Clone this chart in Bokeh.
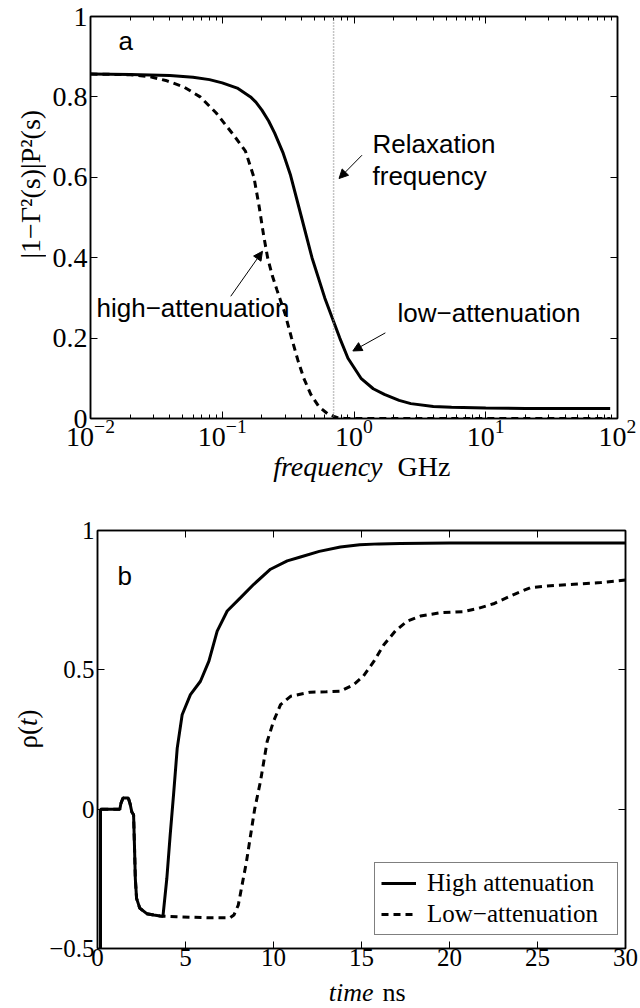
import math
from bokeh.plotting import figure
from bokeh.layouts import column, row
from bokeh.models import (Range1d, LogAxis, LinearAxis, FixedTicker, Span, Label,
                          Arrow, NormalHead, Legend, LegendItem)
from bokeh.embed import file_html
from bokeh.resources import INLINE

SERIF = "Liberation Serif"
SANS = "Liberation Sans"

# ---------------- panel a data ----------------
freq_low = [0.01, 0.02, 0.04, 0.06, 0.08, 0.1, 0.13, 0.164, 0.18, 0.2, 0.225, 0.25, 0.29, 0.33,
            0.4, 0.48, 0.6, 0.78, 0.9, 1.13, 1.4, 1.7, 2.2, 2.7, 4.0, 5.5, 10.0, 20.0, 50.0, 88.0]
resp_low = [0.857, 0.856, 0.853, 0.849, 0.843, 0.835, 0.822, 0.80, 0.787, 0.767, 0.74, 0.71, 0.66,
            0.605, 0.50, 0.40, 0.30, 0.20, 0.15, 0.10, 0.074, 0.06, 0.045, 0.037, 0.03, 0.028,
            0.026, 0.025, 0.025, 0.025]

freq_high = [0.01, 0.02, 0.0285, 0.038, 0.051, 0.068, 0.09, 0.122, 0.15, 0.174, 0.19, 0.206,
             0.221, 0.24, 0.26, 0.3, 0.336, 0.375, 0.416, 0.47, 0.54, 0.64, 0.75, 0.85, 1.0,
             2.0, 5.0, 10.0, 30.0, 88.0]
resp_high = [0.857, 0.855, 0.85, 0.84, 0.825, 0.80, 0.76, 0.705, 0.665, 0.60, 0.53, 0.456,
             0.40, 0.355, 0.32, 0.26, 0.20, 0.145, 0.10, 0.06, 0.03, 0.01, 0.002, 0.0, 0.0,
             0.0, 0.0, 0.0, 0.0, 0.0]

relax_freq = 0.7
x_ticks_a = [0.01, 0.1, 1, 10, 100]
y_ticks_a = [0, 0.2, 0.4, 0.6, 0.8, 1]
y_labels_a = ["0", "0.2", "0.4", "0.6", "0.8", "1"]

# ---------------- panel b data ----------------
t_high = [0.17, 0.17, 1.27, 1.33, 1.45, 1.75, 1.85, 1.95, 2.05, 2.1, 2.15, 2.22, 2.4, 2.8, 3.2,
          3.56, 3.72, 3.94, 4.13, 4.32, 4.53, 4.81, 5.28, 5.85, 6.33, 6.8, 7.37, 8.13, 8.88,
          9.83, 10.78, 11.53, 12.6, 13.8, 14.9, 16.0, 17.2, 20.0, 25.0, 30.0]
rho_high = [-0.6, 0.0, 0.0, 0.02, 0.04, 0.04, 0.02, -0.01, -0.02, -0.13, -0.25, -0.32, -0.355,
            -0.375, -0.38, -0.383, -0.384, -0.248, -0.092, 0.051, 0.219, 0.339, 0.411, 0.459,
            0.531, 0.639, 0.711, 0.759, 0.807, 0.861, 0.891, 0.905, 0.925, 0.941, 0.949, 0.952,
            0.953, 0.955, 0.955, 0.955]

t_low = [0.17, 0.17, 1.27, 1.33, 1.45, 1.75, 1.85, 1.95, 2.05, 2.1, 2.15, 2.22, 2.4, 2.8, 3.2,
         3.56, 3.72, 4.5, 5.5, 6.5, 7.2, 7.53, 7.75, 8.0, 8.46, 8.93, 9.26, 9.64, 10.0, 10.4,
         10.97, 12.1, 13.0, 13.8, 14.56, 15.1, 15.7, 16.27, 16.93, 17.6, 18.35, 19.5, 20.8,
         21.6, 22.5, 23.65, 24.6, 25.36, 27.07, 28.6, 30.0]
rho_low = [-0.6, 0.0, 0.0, 0.02, 0.04, 0.04, 0.02, -0.01, -0.02, -0.13, -0.25, -0.32, -0.355,
           -0.375, -0.38, -0.383, -0.384, -0.386, -0.388, -0.39, -0.39, -0.39, -0.38, -0.344,
           -0.19, 0.0, 0.10, 0.243, 0.315, 0.375, 0.405, 0.42, 0.421, 0.423, 0.447, 0.477, 0.53,
           0.59, 0.64, 0.675, 0.693, 0.705, 0.709, 0.72, 0.737, 0.77, 0.795, 0.80, 0.807,
           0.813, 0.822]

x_ticks_b = [0, 5, 10, 15, 20, 25, 30]
y_ticks_b = [-0.5, 0, 0.5, 1]
y_labels_b = ["\u22120.5", "0", "0.5", "1"]


def style_axis(ax, size, hidden=False):
    ax.major_tick_in = 7
    ax.major_tick_out = 0
    ax.minor_tick_in = 4
    ax.minor_tick_out = 0
    ax.axis_line_color = "black"
    ax.axis_line_width = 1.5
    ax.major_tick_line_color = "black"
    ax.major_tick_line_width = 1
    ax.minor_tick_line_color = "black"
    ax.minor_tick_line_width = 1
    ax.major_label_text_font = SERIF
    ax.major_label_text_font_size = size
    ax.major_label_text_color = "black"
    if hidden:
        ax.major_label_text_color = None
        ax.major_label_text_font_size = "0px"
        ax.major_label_standoff = 0


def add_text(p, text, x, y, font, size, style="normal", align="left",
             baseline="alphabetic", angle=0.0):
    p.add_layout(Label(x=x, y=y, x_units="screen", y_units="screen", text=text,
                       text_font=font, text_font_size=size, text_font_style=style,
                       text_align=align, text_baseline=baseline, angle=angle,
                       text_color="black"))


def text_panel(width, height):
    f = figure(width=width, height=height, x_range=Range1d(0, 1), y_range=Range1d(0, 1),
               x_axis_location=None, y_axis_location=None, min_border=0,
               min_border_left=0, min_border_right=0, min_border_top=0, min_border_bottom=0,
               output_backend="svg", toolbar_location=None)
    f.grid.visible = False
    f.outline_line_color = None
    return f


# ================= panel a =================
p1 = figure(width=594, height=452, x_axis_type="log",
            x_range=Range1d(0.01, 100), y_range=Range1d(0, 1),
            output_backend="svg", toolbar_location=None,
            min_border_left=44, min_border_right=23, min_border_top=16, min_border_bottom=34)
p1.grid.visible = False
p1.outline_line_color = "black"
p1.outline_line_width = 1.5

minor_a = [m * 10.0 ** e for e in range(-2, 2) for m in range(2, 10)]
p1.xaxis.ticker = FixedTicker(ticks=x_ticks_a, minor_ticks=minor_a)
style_axis(p1.xaxis[0], "28px")
p1.xaxis.major_label_standoff = 1
p1.yaxis.ticker = FixedTicker(ticks=y_ticks_a)
p1.yaxis.major_label_overrides = {v: s for v, s in zip(y_ticks_a, y_labels_a)}
style_axis(p1.yaxis[0], "28px")
p1.yaxis.minor_tick_line_color = None
p1.yaxis.major_label_standoff = 3

top_a = LogAxis(ticker=FixedTicker(ticks=x_ticks_a, minor_ticks=minor_a))
style_axis(top_a, "0px", hidden=True)
p1.add_layout(top_a, "above")
right_a = LinearAxis(ticker=FixedTicker(ticks=y_ticks_a))
style_axis(right_a, "0px", hidden=True)
right_a.minor_tick_line_color = None
p1.add_layout(right_a, "right")

p1.add_layout(Span(location=relax_freq, dimension="height", line_color="#8a8a8a",
                   line_dash="1 2", line_width=1.5))
p1.line(freq_high, resp_high, line_color="black", line_width=3, line_dash="7 5")
p1.line(freq_low, resp_low, line_color="black", line_width=3)

head = dict(size=9, fill_color="black", line_color="black", line_width=1)
p1.add_layout(Arrow(end=NormalHead(**head), x_start=1.15, y_start=0.655,
                    x_end=0.77, y_end=0.597, line_width=1, line_color="black"))
p1.add_layout(Arrow(end=NormalHead(**head), x_start=0.116, y_start=0.304,
                    x_end=0.202, y_end=0.416, line_width=1, line_color="black"))
p1.add_layout(Arrow(end=NormalHead(**head), x_start=1.73, y_start=0.213,
                    x_end=0.98, y_end=0.168, line_width=1, line_color="black"))

add_text(p1, "a", 28, 378, SANS, "26px")
add_text(p1, "Relaxation", 282, 275, SANS, "26px")
add_text(p1, "frequency", 282, 243, SANS, "26px")
add_text(p1, "high\u2212attenuation", 6, 111, SANS, "26px")
add_text(p1, "low\u2212attenuation", 307, 106, SANS, "26px")

ylab1 = text_panel(46, 452)
add_text(ylab1, "|1\u2212\u0393\u00b2(s)|P\u00b2(s)", 30, 160, SERIF, "28px",
         align="left", baseline="middle", angle=math.pi / 2)

cap1 = text_panel(640, 32)
add_text(cap1, "frequency", 382, 18, SERIF, "28px", style="italic", align="right")
add_text(cap1, "GHz", 397, 18, SERIF, "28px")

# ================= panel b =================
p2 = figure(width=596, height=493, x_range=Range1d(0, 30), y_range=Range1d(-0.5, 1),
            output_backend="svg", toolbar_location=None,
            min_border_left=53, min_border_right=15, min_border_top=46, min_border_bottom=29)
p2.grid.visible = False
p2.outline_line_color = "black"
p2.outline_line_width = 1.5

p2.xaxis.ticker = FixedTicker(ticks=x_ticks_b)
style_axis(p2.xaxis[0], "25px")
p2.xaxis.minor_tick_line_color = None
p2.xaxis.major_label_standoff = 0
p2.yaxis.ticker = FixedTicker(ticks=y_ticks_b)
p2.yaxis.major_label_overrides = {v: s for v, s in zip(y_ticks_b, y_labels_b)}
style_axis(p2.yaxis[0], "25px")
p2.yaxis.minor_tick_line_color = None
p2.yaxis.major_label_standoff = 3

top_b = LinearAxis(ticker=FixedTicker(ticks=x_ticks_b))
style_axis(top_b, "0px", hidden=True)
top_b.minor_tick_line_color = None
p2.add_layout(top_b, "above")
right_b = LinearAxis(ticker=FixedTicker(ticks=y_ticks_b))
style_axis(right_b, "0px", hidden=True)
right_b.minor_tick_line_color = None
p2.add_layout(right_b, "right")

r_low = p2.line(t_low, rho_low, line_color="black", line_width=3, line_dash="7 5")
r_high = p2.line(t_high, rho_high, line_color="black", line_width=3)

legend = Legend(items=[LegendItem(label="High attenuation", renderers=[r_high]),
                       LegendItem(label="Low\u2212attenuation", renderers=[r_low])],
                location=(277, 13))
legend.border_line_color = "black"
legend.border_line_width = 1
legend.background_fill_color = "white"
legend.background_fill_alpha = 1.0
legend.label_text_font = SERIF
legend.label_text_font_size = "25px"
legend.label_text_color = "black"
legend.glyph_width = 35
legend.glyph_height = 20
legend.label_standoff = 11
legend.padding = 6
legend.spacing = 3
legend.margin = 0
legend.label_width = 184
p2.add_layout(legend)

add_text(p2, "b", 20, 373, SANS, "26px")

ylab2 = text_panel(44, 493)
add_text(ylab2, "\u03c1(", 27, 200, SERIF, "27px", baseline="middle", angle=math.pi / 2)
add_text(ylab2, "t", 27, 222.5, SERIF, "27px", style="italic", baseline="middle",
         angle=math.pi / 2)
add_text(ylab2, ")", 27, 230, SERIF, "27px", baseline="middle", angle=math.pi / 2)

cap2 = text_panel(640, 31)
add_text(cap2, "time", 373, 16, SERIF, "26px", style="italic", align="right")
add_text(cap2, "ns", 382, 16, SERIF, "26px")

layout = column(row(ylab1, p1, spacing=0), cap1, row(ylab2, p2, spacing=0), cap2, spacing=0)
open("out.html", "w").write(file_html(layout, INLINE))
